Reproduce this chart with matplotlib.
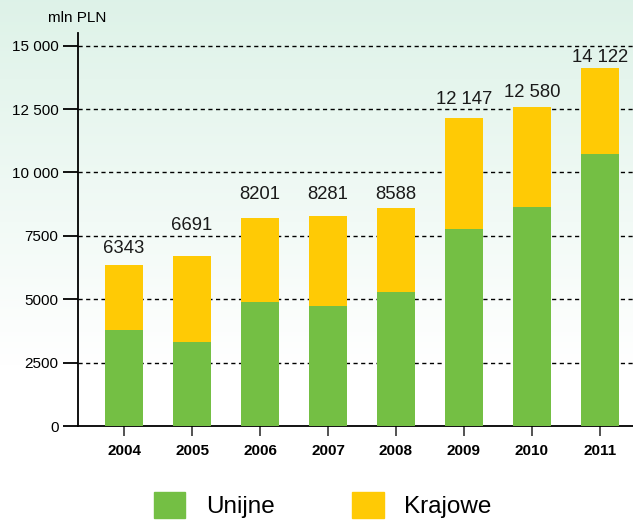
import numpy as np
import matplotlib.pyplot as plt
from matplotlib.patches import Patch

lata = ['2004', '2005', '2006', '2007', '2008', '2009', '2010', '2011']
razem = [6343, 6691, 8201, 8281, 8588, 12147, 12580, 14122]
unijne = [3800, 3330, 4900, 4740, 5290, 7780, 8650, 10740]
etykiety = ['6343', '6691', '8201', '8281', '8588', '12 147', '12 580', '14 122']
y_ticks = [0, 2500, 5000, 7500, 10000, 12500, 15000]
y_labels = ['0', '2500', '5000', '7500', '10 000', '12 500', '15 000']

# odstep etykiety nad slupkiem (pt)
odstep = [9, 19, 14, 12, 7, 10, 7, 4]

zielony = '#74bf44'
zolty = '#ffca05'

plt.rcParams['font.family'] = ['Liberation Sans', 'DejaVu Sans']

fig = plt.figure(figsize=(6.33, 5.21), dpi=100)

# tlo - gradient od mietowego do bialego
bg = fig.add_axes([0, 0, 1, 1], zorder=-10)
grad = np.linspace(0, 1, 256).reshape(-1, 1)
top = np.array([0.87, 0.95, 0.91])
bot = np.array([1.0, 1.0, 1.0])
t = np.clip(grad / 0.7, 0, 1)
img = top * (1 - t[..., None]) + bot * t[..., None]
img = img.reshape(256, 1, 3)
bg.imshow(img, aspect='auto', extent=[0, 1, 0, 1])
bg.axis('off')

ax = fig.add_axes([0.1232, 0.1823, 0.8768, 0.7544])
ax.patch.set_alpha(0)

x = np.arange(len(lata))
krajowe = np.array(razem) - np.array(unijne)
ax.bar(x, unijne, width=0.56, color=zielony, zorder=3)
ax.bar(x, krajowe, width=0.56, bottom=unijne, color=zolty, zorder=3)

for xi, r, lab, o in zip(x, razem, etykiety, odstep):
    ax.annotate(lab, (xi, r), xytext=(0, o), textcoords='offset points',
                ha='center', va='baseline', fontsize=13.3, color='#1a1a1a')

ax.set_xlim(-0.68, 7.49)
ax.set_ylim(0, 15500)
ax.set_yticks(y_ticks)
ax.set_yticklabels(y_labels, fontsize=11)
ax.set_xticks(x)
ax.set_xticklabels(lata, fontsize=11, fontweight='bold')
ax.tick_params(axis='y', length=11, width=1.3, direction='out', pad=3)
ax.tick_params(axis='x', length=7, width=1.3, color='#444444', pad=6)

for yt in y_ticks[1:]:
    ax.axhline(yt, color='black', linestyle=(0, (3, 2.5)), linewidth=1, zorder=1)

for s in ['top', 'right']:
    ax.spines[s].set_visible(False)
ax.spines['left'].set_linewidth(1.3)
ax.spines['bottom'].set_linewidth(1.3)

fig.text(0.076, 0.965, 'mln PLN', fontsize=11, ha='left', va='center')

handles = [Patch(color=zielony, label='Unijne'), Patch(color=zolty, label='Krajowe')]
fig.legend(handles=handles, loc='center', bbox_to_anchor=(0.51, 0.03), ncol=2,
           frameon=False, fontsize=17.5, handlelength=1.28, handleheight=1.23,
           handletextpad=0.85, columnspacing=3.2)

fig.savefig('out.png', dpi=100)
